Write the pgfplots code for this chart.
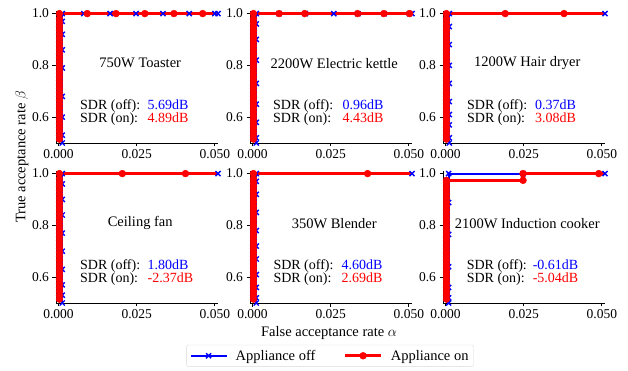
\documentclass[border=0pt]{standalone}
\usepackage{fontspec}
\setmainfont{Liberation Serif}
\usepackage{pgfplots}
\pgfplotsset{compat=1.18}
\newcommand{\tfont}{\fontsize{14.5bp}{17bp}\selectfont}
\newcommand{\sfnt}{\fontsize{14bp}{16bp}\selectfont}
\pgfplotsset{
  panel/.style={
    scale only axis, width=162bp, height=132bp,
    xmin=-0.0008, xmax=0.051, ymin=0.5, ymax=1.01,
    axis x line*=bottom, axis y line*=left,
    axis line style={-, line width=0.8bp, black},
    xtick={0,0.025,0.05}, xticklabels={0.000,0.025,0.050},
    ytick={0.6,0.8,1.0}, yticklabels={0.6,0.8,1.0},
    scaled x ticks=false, scaled y ticks=false,
    tick align=outside, major tick length=3.5bp,
    tick style={black, line width=0.8bp},
    ticklabel style={font=\fontsize{13.5bp}{16bp}\selectfont},
    clip=false,
  },
  offl/.style={blue, line width=2bp, mark=x, mark size=3.6bp, mark options={line width=1.4bp}},
  onl/.style={red, line width=3.4bp, mark=*, mark size=3.4bp, mark options={fill=red, draw=red, line width=0.5bp}},
}
\tikzset{sdr/.style={font=\sfnt, anchor=west, inner sep=0pt, text height=8.5bp, text depth=2.5bp}}
\newcommand{\ann}[5]{%
  \node[font=\tfont, inner sep=0pt] at (rel axis cs:0.52,0.604) {#1};
  \node[sdr] at (rel axis cs:#2,0.279) {SDR (off):};
  \node[sdr] at (rel axis cs:#2,0.175) {SDR (on):};
  \node[sdr, text=blue] at (rel axis cs:#3,0.279) {#4};
  \node[sdr, text=red] at (rel axis cs:#3,0.175) {#5};
}
\begin{document}
\begin{tikzpicture}
\path[use as bounding box] (0,0) rectangle (628bp,371bp);

% Panel 1
\begin{axis}[panel, at={(56bp,228bp)}]
\addplot[offl] coordinates {(0.0012,0.5)(0.0012,0.53)(0.0012,0.6)(0.0012,0.68)(0.0012,0.79)(0.0012,0.86)(0.0012,0.92)(0.0012,0.97)(0.0012,1.0)(0.0081,1.0)(0.0165,1.0)(0.0248,1.0)(0.0334,1.0)(0.0418,1.0)(0.0500,1.0)(0.051,1.0)};
\addplot[onl] coordinates {(0.0003,0.515)(0.0003,0.53)(0.0003,0.545)(0.0003,0.56)(0.0003,0.575)(0.0003,0.59)(0.0003,0.605)(0.0003,0.62)(0.0003,0.635)(0.0003,0.65)(0.0003,0.665)(0.0003,0.68)(0.0003,0.695)(0.0003,0.71)(0.0003,0.725)(0.0003,0.74)(0.0003,0.755)(0.0003,0.77)(0.0003,0.785)(0.0003,0.80)(0.0003,0.815)(0.0003,0.83)(0.0003,0.845)(0.0003,0.86)(0.0003,0.875)(0.0003,0.89)(0.0003,0.905)(0.0003,0.92)(0.0003,0.935)(0.0003,0.95)(0.0003,0.965)(0.0003,0.98)(0.0003,1.0)(0.0092,1.0)(0.0184,1.0)(0.0276,1.0)(0.0369,1.0)(0.0461,1.0)};
\addplot[red, line width=3.4bp] coordinates {(0.0461,1.0)(0.051,1.0)};
\ann{750W Toaster}{0.148}{0.565}{5.69dB}{4.89dB}
\end{axis}

% Panel 2
\begin{axis}[panel, at={(250bp,228bp)}]
\addplot[offl] coordinates {(0.0012,0.5)(0.0012,0.52)(0.0012,0.58)(0.0012,0.65)(0.0012,0.73)(0.0012,0.82)(0.0012,0.9)(0.0012,0.96)(0.0012,1.0)(0.0085,1.0)(0.0169,1.0)(0.0260,1.0)(0.0337,1.0)(0.0421,1.0)(0.0502,1.0)(0.051,1.0)};
\addplot[onl] coordinates {(0.0003,0.515)(0.0003,0.53)(0.0003,0.545)(0.0003,0.56)(0.0003,0.575)(0.0003,0.59)(0.0003,0.605)(0.0003,0.62)(0.0003,0.635)(0.0003,0.65)(0.0003,0.665)(0.0003,0.68)(0.0003,0.695)(0.0003,0.71)(0.0003,0.725)(0.0003,0.74)(0.0003,0.755)(0.0003,0.77)(0.0003,0.785)(0.0003,0.80)(0.0003,0.815)(0.0003,0.83)(0.0003,0.845)(0.0003,0.86)(0.0003,0.875)(0.0003,0.89)(0.0003,0.905)(0.0003,0.92)(0.0003,0.935)(0.0003,0.95)(0.0003,0.965)(0.0003,0.98)(0.0003,1.0)(0.0085,1.0)(0.0167,1.0)(0.0336,1.0)(0.0420,1.0)(0.0502,1.0)};
\addplot[red, line width=3.4bp] coordinates {(0.0502,1.0)(0.051,1.0)};
\ann{2200W Electric kettle}{0.142}{0.570}{0.96dB}{4.43dB}
\end{axis}

% Panel 3
\begin{axis}[panel, at={(443bp,228bp)}]
\addplot[offl] coordinates {(0.0012,0.5)(0.0012,0.52)(0.0012,0.57)(0.0012,0.61)(0.0012,0.66)(0.0012,0.73)(0.0012,0.8)(0.0012,0.88)(0.0012,0.95)(0.0012,1.0)(0.051,1.0)};
\addplot[onl] coordinates {(0.0003,0.515)(0.0003,0.53)(0.0003,0.545)(0.0003,0.56)(0.0003,0.575)(0.0003,0.59)(0.0003,0.605)(0.0003,0.62)(0.0003,0.635)(0.0003,0.65)(0.0003,0.665)(0.0003,0.68)(0.0003,0.695)(0.0003,0.71)(0.0003,0.725)(0.0003,0.74)(0.0003,0.755)(0.0003,0.77)(0.0003,0.785)(0.0003,0.80)(0.0003,0.815)(0.0003,0.83)(0.0003,0.845)(0.0003,0.86)(0.0003,0.875)(0.0003,0.89)(0.0003,0.905)(0.0003,0.92)(0.0003,0.935)(0.0003,0.95)(0.0003,0.965)(0.0003,0.98)(0.0003,1.0)(0.0191,1.0)(0.0379,1.0)};
\addplot[red, line width=3.4bp] coordinates {(0.0379,1.0)(0.051,1.0)};
\ann{1200W Hair dryer}{0.148}{0.568}{0.37dB}{3.08dB}
\end{axis}

% Panel 4
\begin{axis}[panel, at={(56bp,68bp)}]
\addplot[offl] coordinates {(0.0012,0.5)(0.0012,0.53)(0.0012,0.57)(0.0012,0.63)(0.0012,0.7)(0.0012,0.77)(0.0012,0.84)(0.0012,0.9)(0.0012,0.96)(0.0012,1.0)(0.051,1.0)};
\addplot[onl] coordinates {(0.0003,0.515)(0.0003,0.53)(0.0003,0.545)(0.0003,0.56)(0.0003,0.575)(0.0003,0.59)(0.0003,0.605)(0.0003,0.62)(0.0003,0.635)(0.0003,0.65)(0.0003,0.665)(0.0003,0.68)(0.0003,0.695)(0.0003,0.71)(0.0003,0.725)(0.0003,0.74)(0.0003,0.755)(0.0003,0.77)(0.0003,0.785)(0.0003,0.80)(0.0003,0.815)(0.0003,0.83)(0.0003,0.845)(0.0003,0.86)(0.0003,0.875)(0.0003,0.89)(0.0003,0.905)(0.0003,0.92)(0.0003,0.935)(0.0003,0.95)(0.0003,0.965)(0.0003,0.98)(0.0003,1.0)(0.0204,1.0)(0.0406,1.0)};
\addplot[red, line width=3.4bp] coordinates {(0.0406,1.0)(0.051,1.0)};
\ann{Ceiling fan}{0.148}{0.565}{1.80dB}{-2.37dB}
\end{axis}

% Panel 5
\begin{axis}[panel, at={(250bp,68bp)},
  legend columns=2,
  legend style={at={(0.494,-0.40)}, anchor=center, draw=gray!30, rounded corners=2bp, font=\tfont, inner xsep=3bp, inner ysep=3bp,
    /tikz/every odd column/.append style={column sep=6bp},
    /tikz/every even column/.append style={column sep=26bp}},
  legend image code/.code={\draw[mark repeat=2, mark phase=2] plot coordinates {(0bp,0bp)(18bp,0bp)(36bp,0bp)};}]
\addplot[offl] coordinates {(0.0012,0.5)(0.0012,0.52)(0.0012,0.56)(0.0012,0.61)(0.0012,0.67)(0.0012,0.72)(0.0012,0.78)(0.0012,0.85)(0.0012,0.92)(0.0012,0.97)(0.0012,1.0)(0.051,1.0)};
\addlegendentry{Appliance off}
\addplot[onl] coordinates {(0.0003,0.515)(0.0003,0.53)(0.0003,0.545)(0.0003,0.56)(0.0003,0.575)(0.0003,0.59)(0.0003,0.605)(0.0003,0.62)(0.0003,0.635)(0.0003,0.65)(0.0003,0.665)(0.0003,0.68)(0.0003,0.695)(0.0003,0.71)(0.0003,0.725)(0.0003,0.74)(0.0003,0.755)(0.0003,0.77)(0.0003,0.785)(0.0003,0.80)(0.0003,0.815)(0.0003,0.83)(0.0003,0.845)(0.0003,0.86)(0.0003,0.875)(0.0003,0.89)(0.0003,0.905)(0.0003,0.92)(0.0003,0.935)(0.0003,0.95)(0.0003,0.965)(0.0003,0.98)(0.0003,1.0)(0.0368,1.0)};
\addlegendentry{Appliance on}
\addplot[red, line width=3.4bp, forget plot] coordinates {(0.0368,1.0)(0.051,1.0)};
\ann{350W Blender}{0.144}{0.565}{4.60dB}{2.69dB}
\end{axis}

% Panel 6
\begin{axis}[panel, at={(443bp,68bp)}]
\addplot[offl] coordinates {(0.0010,0.5)(0.0010,0.52)(0.0010,0.56)(0.0010,0.64)(0.0010,0.765)(0.0010,0.888)(0.0010,1.0)(0.0248,1.0)(0.051,1.0)};
\addplot[onl] coordinates {(0.0003,0.515)(0.0003,0.53)(0.0003,0.545)(0.0003,0.56)(0.0003,0.575)(0.0003,0.59)(0.0003,0.605)(0.0003,0.62)(0.0003,0.635)(0.0003,0.65)(0.0003,0.665)(0.0003,0.68)(0.0003,0.695)(0.0003,0.71)(0.0003,0.725)(0.0003,0.74)(0.0003,0.755)(0.0003,0.77)(0.0003,0.785)(0.0003,0.80)(0.0003,0.815)(0.0003,0.83)(0.0003,0.845)(0.0003,0.86)(0.0003,0.875)(0.0003,0.89)(0.0003,0.905)(0.0003,0.92)(0.0003,0.935)(0.0003,0.95)(0.0003,0.965)(0.0003,0.974)(0.0248,0.974)(0.0248,1.0)(0.0490,1.0)};
\addplot[red, line width=3.4bp] coordinates {(0.0490,1.0)(0.051,1.0)};
\ann{2100W Induction cooker}{0.146}{0.553}{-0.61dB}{-5.04dB}
\end{axis}

\node[font=\tfont, inner sep=0pt] at (329bp,38bp) {False acceptance rate $\alpha$};
\node[font=\tfont, rotate=90, inner sep=0pt] at (22bp,214bp) {True acceptance rate $\beta$};
\end{tikzpicture}
\end{document}
